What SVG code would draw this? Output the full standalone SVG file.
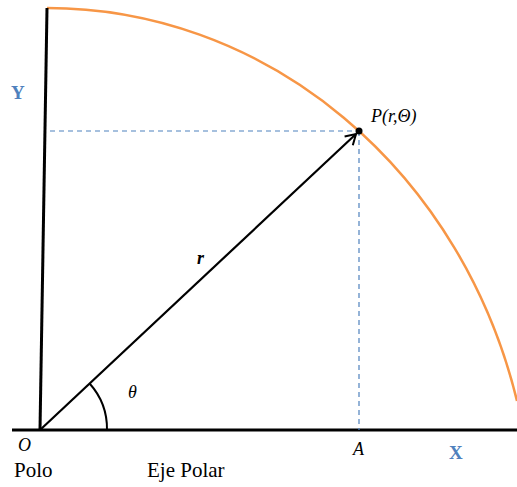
<svg xmlns="http://www.w3.org/2000/svg" width="517" height="487" viewBox="0 0 517 487">
<style>
text{font-family:"Liberation Serif","DejaVu Serif","Times New Roman",serif;font-size:18px;fill:#000}
.i{font-style:italic}
.b{fill:#4F81BD;font-weight:bold;font-size:19px}
.big{font-size:21px}
.dash{stroke:#4F81BD;stroke-width:1.2;stroke-dasharray:5,4;fill:none}
</style>
<defs>
<marker id="ah" markerWidth="14" markerHeight="14" refX="11" refY="7" orient="auto" markerUnits="userSpaceOnUse">
<path d="M1,1 L11,7 L1,13" fill="none" stroke="#000" stroke-width="2"/>
</marker>
</defs>
<g id="curve">
<path d="M47,8 A486,527 0 0 1 517,401" fill="none" stroke="#F79646" stroke-width="2.5"/>
</g>
<g id="axes">
<line x1="12" y1="430" x2="517" y2="430" stroke="#000" stroke-width="3"/>
<line x1="40" y1="430" x2="47" y2="8" stroke="#000" stroke-width="3"/>
</g>
<g id="connectors">
<line class="dash" x1="50" y1="131" x2="359" y2="131"/>
<line class="dash" x1="359" y1="131" x2="359" y2="430"/>
<line x1="40" y1="430" x2="356" y2="134" stroke="#000" stroke-width="2.2" marker-end="url(#ah)"/>
<path d="M89.6,383.5 A68,68 0 0 1 107,430" fill="none" stroke="#000" stroke-width="2"/>
</g>
<g id="P">
<circle cx="359" cy="131" r="3.5" fill="#000"/>
<text class="i" x="371" y="122">P(r,Θ)</text>
</g>
<g id="labels">
<text class="b" x="11" y="99">Y</text>
<text class="b" x="449" y="459">X</text>
<text class="i" x="197" y="264" font-weight="bold">r</text>
<text class="i" x="128" y="398">θ</text>
<text class="i" x="18" y="451">O</text>
<text class="i" x="353" y="455">A</text>
<text class="big" x="14" y="477">Polo</text>
<text class="big" x="147" y="477">Eje Polar</text>
</g>
</svg>
